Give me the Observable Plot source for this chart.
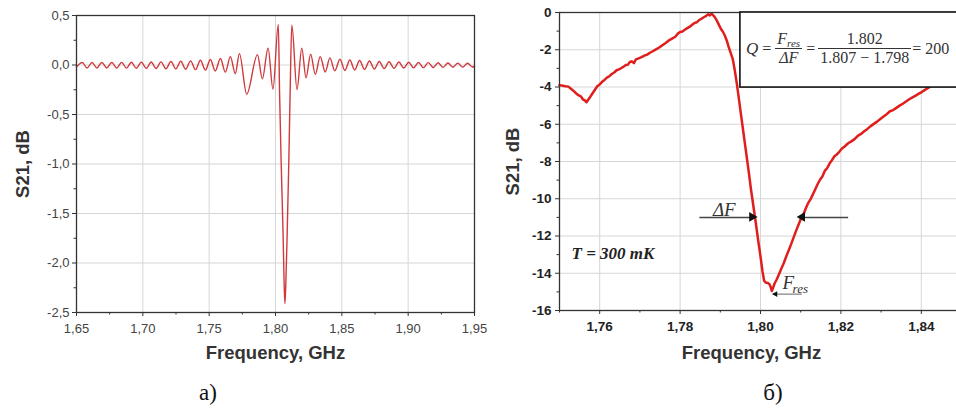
<!DOCTYPE html>
<html><head><meta charset="utf-8">
<script src="https://cdn.jsdelivr.net/npm/d3@7"></script>
<script src="https://cdn.jsdelivr.net/npm/@observablehq/plot@0.6"></script>
<style>
html,body{margin:0;padding:0;background:#fff;width:956px;height:417px;overflow:hidden;position:relative;font-family:"Liberation Sans",Arial,sans-serif}
.panel{position:absolute;top:0}
.panel svg{max-width:none !important}
.cap{position:absolute;top:380px;font-family:"Liberation Serif","Times New Roman",serif;font-size:23px;color:#111;transform:translateX(-50%)}
#formula{position:absolute;left:746px;top:31px;display:flex;align-items:center;font-family:"Liberation Serif","Times New Roman",serif;font-size:16px;color:#333;white-space:nowrap}
#formula .i{font-style:italic}
#formula .frac{display:inline-flex;flex-direction:column;align-items:center;line-height:16px}
#formula .num{border-bottom:1px solid #333;padding:0 2px 1px 2px}
#formula .den{padding-top:1px}
#formula sub{font-size:11px;vertical-align:-3px;line-height:0}
</style></head><body>
<div id="a" class="panel" style="left:0;width:492px"></div>
<div id="b" class="panel" style="left:480px;width:485px"></div>
<div id="formula">
  <span class="i" style="font-size:17px">Q</span><span style="margin:0 4px">=</span>
  <span class="frac"><span class="num i">F<sub>res</sub></span><span class="den i">ΔF</span></span>
  <span style="margin:0 5px 0 4px">=</span>
  <span class="frac"><span class="num" style="width:100%;text-align:center">1.802</span><span class="den">1.807 − 1.798</span></span>
  <span style="margin-left:3px">= 200</span>
</div>
<div class="cap" style="left:208px">а)</div>
<div class="cap" style="left:773px">б)</div>
<script>
// ---- Panel a) data : S21 (dB) vs frequency (GHz) ----
const leftFreq = [1.6500,1.6543,1.6580,1.6617,1.6654,1.6691,1.6728,1.6766,1.6803,1.6840,1.6877,1.6914,1.6951,1.6989,1.7026,1.7063,1.7100,1.7137,1.7174,1.7212,1.7249,1.7286,1.7323,1.7360,1.7397,1.7434,1.7472,1.7509,1.7546,1.7585,1.7622,1.7660,1.7697,1.7728,1.7783,1.7864,1.7901,1.7944,1.7981,1.8021,1.8031,1.8043,1.8057,1.8065,1.8071,1.8078,1.8088,1.8100,1.8110,1.8123,1.8162,1.8198,1.8230,1.8265,1.8300,1.8337,1.8375,1.8410,1.8447,1.8486,1.8523,1.8560,1.8597,1.8634,1.8671,1.8708,1.8745,1.8782,1.8819,1.8856,1.8893,1.8930,1.8967,1.9004,1.9041,1.9078,1.9115,1.9152,1.9189,1.9226,1.9263,1.9300,1.9337,1.9374,1.9411,1.9448,1.9485,1.9500];
const leftS21 = [-0.020,0.025,-0.030,0.025,-0.030,0.026,-0.030,0.026,-0.031,0.027,-0.032,0.028,-0.033,0.029,-0.034,0.030,-0.036,0.032,-0.038,0.035,-0.040,0.038,-0.043,0.042,-0.047,0.048,-0.052,0.056,-0.060,0.066,-0.072,0.085,-0.088,0.115,-0.295,0.105,-0.140,0.170,-0.245,0.410,-0.30,-1.00,-1.70,-2.20,-2.41,-2.20,-1.70,-1.00,-0.30,0.405,-0.250,0.170,-0.130,0.110,-0.095,0.085,-0.070,0.072,-0.058,0.058,-0.055,0.050,-0.050,0.045,-0.045,0.040,-0.041,0.036,-0.037,0.033,-0.034,0.030,-0.031,0.028,-0.029,0.026,-0.027,0.024,-0.025,0.022,-0.024,0.020,-0.022,0.019,-0.021,0.018,-0.020,-0.015];
const leftXTicks = [1.65,1.70,1.75,1.80,1.85,1.90,1.95];
const leftXMinor = [1.675,1.725,1.775,1.825,1.875,1.925];
const leftYTicks = [0.5,0.0,-0.5,-1.0,-1.5,-2.0,-2.5];
const leftYMinor = [0.25,-0.25,-0.75,-1.25,-1.75,-2.25];

// ---- Panel б) data : measured resonance at T = 300 mK ----
const rightFreq = [1.7500,1.7508,1.7515,1.7522,1.7530,1.7537,1.7542,1.7548,1.7553,1.7558,1.7563,1.7567,1.7571,1.7575,1.7579,1.7584,1.7589,1.7594,1.7600,1.7606,1.7612,1.7618,1.7624,1.7630,1.7636,1.7642,1.7648,1.7654,1.7660,1.7665,1.7670,1.7675,1.7680,1.7685,1.7690,1.7697,1.7704,1.7711,1.7718,1.7725,1.7732,1.7740,1.7748,1.7756,1.7764,1.7772,1.7780,1.7788,1.7795,1.7800,1.7806,1.7812,1.7818,1.7824,1.7830,1.7836,1.7842,1.7848,1.7854,1.7860,1.7865,1.7870,1.7874,1.7878,1.7882,1.7886,1.7891,1.7896,1.7901,1.7906,1.7911,1.7916,1.7921,1.7926,1.7931,1.7936,1.7941,1.7946,1.7951,1.7956,1.7961,1.7966,1.7971,1.7976,1.7982,1.7988,1.7994,1.8000,1.8005,1.8009,1.8013,1.8018,1.8022,1.8025,1.8028,1.8031,1.8035,1.8040,1.8046,1.8052,1.8058,1.8064,1.8070,1.8076,1.8082,1.8088,1.8094,1.8100,1.8106,1.8112,1.8118,1.8124,1.8130,1.8136,1.8142,1.8148,1.8154,1.8160,1.8166,1.8172,1.8178,1.8184,1.8190,1.8196,1.8202,1.8210,1.8218,1.8226,1.8234,1.8242,1.8250,1.8258,1.8266,1.8274,1.8282,1.8290,1.8298,1.8306,1.8314,1.8322,1.8330,1.8338,1.8346,1.8354,1.8362,1.8370,1.8378,1.8386,1.8394,1.8402,1.8410,1.8418,1.8426,1.8434,1.8442,1.8450,1.8460,1.8470,1.8480,1.8490];
const rightS21 = [-3.90,-3.93,-3.96,-3.98,-4.12,-4.25,-4.36,-4.45,-4.50,-4.66,-4.72,-4.82,-4.70,-4.58,-4.44,-4.28,-4.12,-3.96,-3.86,-3.72,-3.62,-3.50,-3.42,-3.30,-3.22,-3.10,-3.05,-2.98,-2.90,-2.82,-2.80,-2.66,-2.62,-2.72,-2.52,-2.46,-2.40,-2.32,-2.26,-2.16,-2.08,-1.98,-1.88,-1.76,-1.64,-1.50,-1.40,-1.30,-1.12,-1.05,-1.02,-0.92,-0.84,-0.76,-0.66,-0.56,-0.52,-0.40,-0.32,-0.24,-0.18,-0.10,-0.16,-0.06,-0.14,-0.24,-0.42,-0.64,-0.86,-1.02,-1.22,-1.50,-1.86,-2.18,-2.50,-3.10,-3.80,-4.60,-5.40,-6.20,-7.00,-7.80,-8.60,-9.45,-10.35,-11.25,-12.20,-13.10,-13.90,-14.40,-14.50,-14.52,-14.58,-14.72,-14.95,-14.80,-14.55,-14.35,-14.05,-13.75,-13.45,-13.10,-12.78,-12.45,-12.10,-11.75,-11.42,-11.10,-10.90,-10.55,-10.25,-10.05,-9.78,-9.50,-9.22,-8.98,-8.80,-8.50,-8.35,-8.10,-7.92,-7.72,-7.62,-7.48,-7.32,-7.18,-7.02,-6.92,-6.80,-6.62,-6.52,-6.38,-6.25,-6.10,-5.98,-5.86,-5.72,-5.58,-5.46,-5.30,-5.24,-5.12,-5.00,-4.90,-4.78,-4.66,-4.56,-4.46,-4.36,-4.26,-4.14,-4.04,-3.92,-3.82,-3.70,-3.60,-3.48,-3.36,-3.26,-3.16];
const rightXTicks = [1.76,1.78,1.80,1.82,1.84];
const rightXMinor = [1.75,1.77,1.79,1.81,1.83,1.85];
const rightYTicks = [0,-2,-4,-6,-8,-10,-12,-14,-16];
const rightYMinor = [-1,-3,-5,-7,-9,-11,-13,-15];

// annotations (data space)
const formulaBox = [{x1:1.795, x2:1.870, y1:-4.03, y2:0}];
const deltaFArrows = [{x1:1.7848, x2:1.7980, y:-11, dir:90, off:-5}, {x1:1.8218, x2:1.8105, y:-11, dir:-90, off:5}];
const fresArrow = [{x1:1.8103, x2:1.8030, y:-15.12}];
const labelDF = [{x:1.7910, y:-10.6, t:"ΔF"}];
const labelF = [{x:1.8069, y:-14.5, t:"F"}];
const labelRes = [{x:1.8099, y:-14.85, t:"res"}];
const labelT = [{x:1.7633, y:-12.94, t:"T = 300 mK"}];

const loc = d3.formatLocale({decimal:",", thousands:" ", grouping:[3], currency:["",""], minus:"-"});
const fx2 = loc.format(".2f"), fy1 = loc.format(".1f"), fy0 = loc.format("d");

const leftData = leftFreq.map((f,i)=>({f, s:leftS21[i]}));
const rightData = rightFreq.map((f,i)=>({f, s:rightS21[i]}));
const grid = {stroke:"#d6d6d6", strokeOpacity:1, strokeWidth:1};
const serif = "Liberation Serif, Times New Roman, serif";
const svgStyle = {background:"transparent", overflow:"visible", maxWidth:"none", fontFamily:"Liberation Sans, Arial, sans-serif", fontSize:"13px"};

const A = Plot.plot({
  width:492, height:370, marginLeft:76, marginRight:18, marginTop:15, marginBottom:58,
  style:svgStyle,
  x:{domain:[1.65,1.95]}, y:{domain:[-2.5,0.5]},
  marks:[
    Plot.gridX(leftXTicks.slice(1,-1), grid),
    Plot.gridY(leftYTicks.slice(1,-1), grid),
    Plot.line(leftData, {x:"f", y:"s", stroke:"#cf3a3d", strokeWidth:1.4, curve:"monotone-x"}),
    Plot.frame({stroke:"#333", strokeWidth:1.3}),
    Plot.axisX(leftXTicks, {tickSize:4, tickPadding:7, tickFormat:fx2, label:null, stroke:"#333", fill:"#444", fontSize:13}),
    Plot.axisX(leftXMinor, {tickSize:2.5, tickFormat:()=>"", label:null, stroke:"#333"}),
    Plot.axisY(leftYTicks, {tickSize:4, tickPadding:3, tickFormat:fy1, label:null, stroke:"#333", fill:"#444", fontSize:13}),
    Plot.axisY(leftYMinor, {tickSize:2.5, tickFormat:()=>"", label:null, stroke:"#333"}),
    Plot.text(["Frequency, GHz"], {frameAnchor:"bottom", dy:41, textAnchor:"middle", lineAnchor:"middle", fontWeight:"bold", fontSize:18.5, fill:"#333"}),
    Plot.text(["S21, dB"], {frameAnchor:"left", dx:-53, rotate:-90, textAnchor:"middle", lineAnchor:"middle", fontWeight:"bold", fontSize:18.5, fill:"#333"})
  ]
});
document.getElementById("a").append(A);

const B = Plot.plot({
  width:485, height:370, marginLeft:79, marginRight:4, marginTop:12, marginBottom:60,
  style:svgStyle,
  x:{domain:[1.75,1.85]}, y:{domain:[-16,0]},
  marks:[
    Plot.gridX(rightXTicks, grid),
    Plot.gridY(rightYTicks.slice(1,-1), grid),
    Plot.line(rightData, {x:"f", y:"s", stroke:"#e01e1e", strokeWidth:2.5, curve:"linear"}),
    Plot.frame({stroke:"#333", strokeWidth:1.3}),
    Plot.rect(formulaBox, {x1:"x1", x2:"x2", y1:"y1", y2:"y2", fill:"white", stroke:"#111", strokeWidth:1.6}),
    Plot.link(deltaFArrows, {x1:"x1", x2:"x2", y1:"y", y2:"y", stroke:"#444", strokeWidth:1.5}),
    Plot.dot(deltaFArrows, {x:"x2", y:"y", dx:"off", symbol:"triangle", r:3.6, fill:"#111", stroke:"none", rotate:"dir"}),
    Plot.link(fresArrow, {x1:"x1", x2:"x2", y1:"y", y2:"y", stroke:"#666", strokeWidth:1}),
    Plot.dot(fresArrow, {x:"x2", y:"y", dx:3, symbol:"triangle", r:2.2, fill:"#111", stroke:"none", rotate:-90}),
    Plot.text(labelDF, {x:"x", y:"y", text:"t", fontFamily:serif, fontStyle:"italic", fontSize:19, fill:"#333"}),
    Plot.text(labelF, {x:"x", y:"y", text:"t", fontFamily:serif, fontStyle:"italic", fontSize:19, fill:"#333"}),
    Plot.text(labelRes, {x:"x", y:"y", text:"t", fontFamily:serif, fontStyle:"italic", fontSize:13, fill:"#333"}),
    Plot.text(labelT, {x:"x", y:"y", text:"t", fontFamily:serif, fontStyle:"italic", fontWeight:"bold", fontSize:17, fill:"#222"}),
    Plot.axisX(rightXTicks, {tickSize:4, tickPadding:7, tickFormat:fx2, label:null, stroke:"#333", fill:"#222", fontSize:13.5, fontWeight:"bold"}),
    Plot.axisX(rightXMinor, {tickSize:2.5, tickFormat:()=>"", label:null, stroke:"#333"}),
    Plot.axisY(rightYTicks, {tickSize:4, tickPadding:4, tickFormat:fy0, label:null, stroke:"#333", fill:"#222", fontSize:13.5, fontWeight:"bold"}),
    Plot.axisY(rightYMinor, {tickSize:2.5, tickFormat:()=>"", label:null, stroke:"#333"}),
    Plot.text(["Frequency, GHz"], {frameAnchor:"bottom", dx:-9, dy:43, textAnchor:"middle", lineAnchor:"middle", fontWeight:"bold", fontSize:18.5, fill:"#333"}),
    Plot.text(["S21, dB"], {frameAnchor:"left", dx:-46, rotate:-90, textAnchor:"middle", lineAnchor:"middle", fontWeight:"bold", fontSize:18.5, fill:"#333"})
  ]
});
document.getElementById("b").append(B);
</script>
</body></html>
